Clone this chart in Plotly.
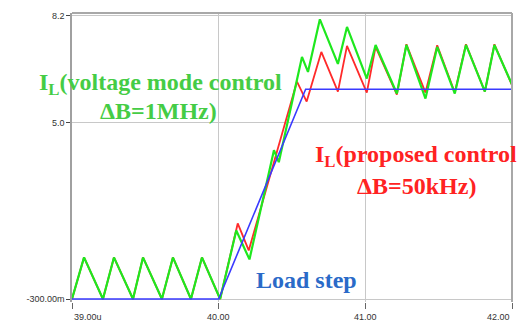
import plotly.graph_objects as go

# time in microseconds
t_green = [39.0, 39.082, 39.211, 39.286, 39.416, 39.484, 39.613, 39.688, 39.811, 39.886, 40.01,
           40.12, 40.21, 40.377, 40.41, 40.568, 40.609, 40.69, 40.813, 40.875, 41.01, 41.07,
           41.215, 41.28, 41.41, 41.49, 41.61, 41.686, 41.815, 41.88, 42.0]
i_green = [-0.3, 0.95, -0.3, 0.95, -0.3, 0.95, -0.3, 0.95, -0.3, 0.95, -0.3,
           1.76, 0.89, 4.17, 3.81, 6.97, 6.52, 8.10, 6.76, 7.87, 6.32, 7.33,
           5.87, 7.33, 5.72, 7.27, 5.87, 7.33, 5.93, 7.33, 6.14]

t_red = [39.0, 39.082, 39.211, 39.286, 39.416, 39.484, 39.613, 39.688, 39.811, 39.886, 40.01,
         40.13, 40.205, 40.534, 40.60, 40.70, 40.813, 40.875, 41.01, 41.07, 41.215, 41.28,
         41.41, 41.49, 41.61, 41.686, 41.815, 41.88, 42.0]
i_red = [-0.3, 0.95, -0.3, 0.95, -0.3, 0.95, -0.3, 0.95, -0.3, 0.95, -0.3,
         1.97, 1.16, 6.23, 5.63, 7.12, 5.93, 7.30, 5.90, 7.27, 5.84, 7.35,
         5.90, 7.32, 5.90, 7.35, 5.93, 7.35, 6.12]

t_blue = [39.0, 40.0, 40.593, 42.0]
i_blue = [-0.3, -0.3, 6.0, 6.0]

x_tickvals = [39.0, 40.0, 41.0, 42.0]
x_ticktext = ["39.00u", "40.00", "41.00", "42.00"]
x_anchor = ["left", "center", "center", "right"]
y_tickvals = [-0.3, 5.0, 8.2]
y_ticktext = ["-300.00m", "5.0", "8.2"]

fig = go.Figure()
fig.add_trace(go.Scatter(x=t_red, y=i_red, mode="lines",
                         line=dict(color="#ff2a2a", width=1.8)))
fig.add_trace(go.Scatter(x=t_green, y=i_green, mode="lines",
                         line=dict(color="#1ee81e", width=2.2)))
fig.add_trace(go.Scatter(x=t_blue, y=i_blue, mode="lines",
                         line=dict(color="#3a3aff", width=1.6)))

grid = "#c8c8c8"
fig.update_xaxes(range=[39.0, 42.0], tickvals=x_tickvals, showticklabels=False,
                 ticks="outside", ticklen=6, tickcolor="#666", showgrid=True,
                 gridcolor=grid, gridwidth=1, zeroline=False, showline=False,
                 mirror=False)
fig.update_yaxes(range=[-0.389, 8.289], tickvals=y_tickvals, ticktext=y_ticktext,
                 ticks="outside", ticklen=4, tickcolor="#444", showgrid=True,
                 gridcolor=grid, zeroline=False, showline=True, linecolor="#a0a0a0",
                 linewidth=1.5, tickfont=dict(family="Arial, Liberation Sans", size=9,
                                              color="#333"))

shapes = [
    dict(type="line", xref="paper", yref="paper", x0=0, x1=1, y0=1, y1=1,
         line=dict(color="#a8a8a8", width=2)),
    dict(type="line", xref="paper", yref="paper", x0=1, x1=1, y0=0.0, y1=1,
         line=dict(color="#a8a8a8", width=2)),
]

annotations = []
for xv, txt, anc in zip(x_tickvals, x_ticktext, x_anchor):
    annotations.append(dict(x=xv, y=0, xref="x", yref="paper", text=txt, showarrow=False,
                            xanchor=anc, yanchor="top", yshift=-8,
                            font=dict(family="Arial, Liberation Sans", size=9, color="#333")))

serif = "Liberation Serif, Times New Roman, serif"
W, H, L, T = 440.0, 291.0, 72.0, 11.0


def px(x, y):
    return (x - L) / W, (T + H - y) / H


def label(x, y, text, color):
    ax, ay = px(x, y)
    annotations.append(dict(x=ax, y=ay, xref="paper", yref="paper", text="<b>" + text + "</b>",
                            showarrow=False, xanchor="center", yanchor="middle",
                            font=dict(family=serif, size=24, color=color)))


label(160, 82, "I<sub>L</sub>(voltage mode control", "#45cc45")
label(158, 110, "ΔB=1MHz)", "#45cc45")
label(416, 155, "I<sub>L</sub>(proposed control", "#ff2222")
label(416, 185, "ΔB=50kHz)", "#ff2222")
label(306, 280, "Load step", "#2a6ac8")

fig.update_layout(width=528, height=325, margin=dict(l=72, r=16, t=11, b=23),
                  paper_bgcolor="white", plot_bgcolor="white", showlegend=False,
                  shapes=shapes, annotations=annotations)

fig.write_html("out.html")
